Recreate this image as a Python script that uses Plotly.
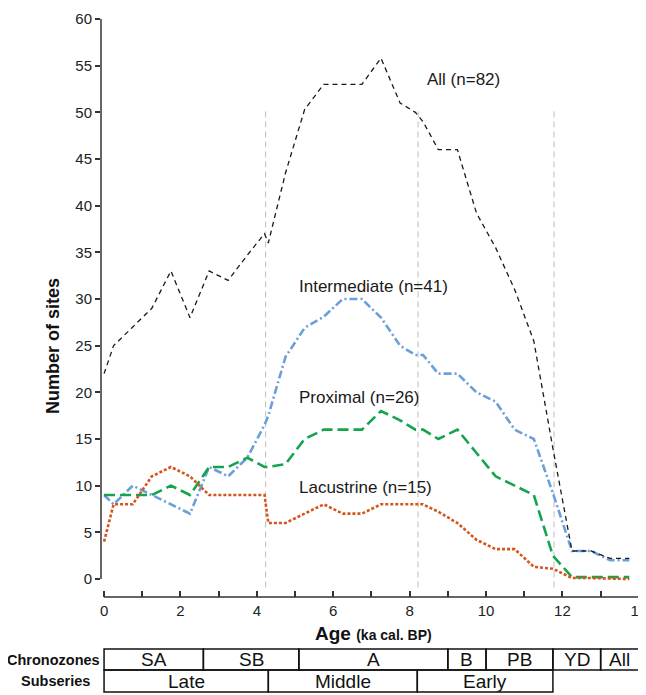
import plotly.graph_objects as go

# ---------------- data ----------------
age = [0, 0.25, 0.75, 1.25, 1.75, 2.25, 2.75, 3.25, 3.75, 4.2, 4.3, 4.75, 5.25, 5.75,
       6.25, 6.75, 7.25, 7.75, 8.15, 8.35, 8.75, 9.25, 9.75, 10.25, 10.75, 11.25,
       11.75, 12.25, 12.75, 13.25, 13.75]
all_sites = [22, 25, 27, 29, 33, 28, 33, 32, 34.7, 37, 36, 43.5, 50.3, 53, 53, 53, 55.8,
             51, 50, 49, 46, 46, 39.2, 35.5, 31, 25.5, 14, 3, 3, 2.2, 2.2]
intermediate = [9, 8, 10, 9, 8, 7, 12, 11, 13, 16.5, 17.5, 23.8, 26.9, 28.1, 30, 30, 28,
                25, 24, 24, 22, 22, 20, 19, 16, 15, 9.2, 3, 3, 2, 2]
proximal = [9, 9, 9, 9, 10, 9, 12, 12, 13, 12, 12, 12.3, 15, 16, 16, 16, 18, 17, 16, 16,
            15, 16, 13.5, 11, 10, 9, 2.5, 0.2, 0.2, 0.2, 0.2]
lacustrine = [4, 8, 8, 11, 12, 11, 9, 9, 9, 9, 6, 6, 7, 8, 7, 7, 8, 8, 8, 8, 7.2, 6, 4.2,
              3.2, 3.2, 1.3, 1.1, 0.1, 0.1, 0.05, 0]
series_labels = ["All (n=82)", "Intermediate (n=41)", "Proximal (n=26)", "Lacustrine (n=15)"]

event_ages = [4.23, 8.22, 11.78]

chrono_names = ["SA", "SB", "A", "B", "PB", "YD", "All"]
chrono_bounds = [0, 2.6, 5.1, 9.0, 10.0, 11.75, 13.0, 14.0]
subseries_names = ["Late", "Middle", "Early"]
subseries_bounds = [0, 4.3, 8.2, 11.75]

x_ticks = [0, 2, 4, 6, 8, 10, 12, 14]
y_ticks = [0, 5, 10, 15, 20, 25, 30, 35, 40, 45, 50, 55, 60]

# ---------------- layout helpers ----------------
# page window is 646x695; the html body adds an 8px margin, so the figure is 8px smaller
OFF = 8
W, H = 646 - OFF, 695 - OFF
P_LEFT, P_RIGHT, P_TOP, P_BOTTOM = 101, 640, 19, 597   # plot area in page pixels
ML, MR = P_LEFT - OFF, 646 - P_RIGHT
MT, MB = P_TOP - OFF, 695 - P_BOTTOM
XMIN, XMAX = -0.08, 14.03
YMIN, YMAX = -1.93, 60

ARIAL = "Liberation Sans, Arial"


def xp(a):
    return (a - XMIN) / (XMAX - XMIN)


def yp_px(px):
    return (P_BOTTOM - px) / (P_BOTTOM - P_TOP)


def xp_px(px):
    return (px - P_LEFT) / (P_RIGHT - P_LEFT)


fig = go.Figure()

styles = [
    dict(color="#1a1a1a", width=1.3, dash="5px,4px"),
    dict(color="#6a9fdb", width=2.6, dash="8px,3px,2px,3px"),
    dict(color="#16a34f", width=2.6, dash="11px,5px"),
    dict(color="#d4561b", width=2.6, dash="3px,2px"),
]
values = [all_sites, intermediate, proximal, lacustrine]
for i in [1, 2, 3, 0]:
    fig.add_trace(go.Scatter(x=age, y=values[i], mode="lines", line=styles[i],
                             name=series_labels[i], showlegend=False, hoverinfo="skip"))

shapes = []
for e in event_ages:
    shapes.append(dict(type="line", xref="x", yref="y", x0=e, x1=e, y0=-0.9, y1=50.5,
                       line=dict(color="#bdbdbd", width=1, dash="6px,4px"), layer="below"))
shapes.append(dict(type="line", xref="paper", yref="y", x0=0, x1=0, y0=0, y1=60,
                   line=dict(color="#333333", width=1.5)))
shapes.append(dict(type="line", xref="paper", yref="paper", x0=xp(0), x1=xp(14), y0=0, y1=0,
                   line=dict(color="#333333", width=1.5)))

ct, cm, cb = yp_px(649), yp_px(670), yp_px(692)
for i in range(len(chrono_names)):
    shapes.append(dict(type="rect", xref="paper", yref="paper",
                       x0=xp(chrono_bounds[i]), x1=xp(chrono_bounds[i + 1]), y0=cm, y1=ct,
                       line=dict(color="#111111", width=1.5)))
for i in range(len(subseries_names)):
    shapes.append(dict(type="rect", xref="paper", yref="paper",
                       x0=xp(subseries_bounds[i]), x1=xp(subseries_bounds[i + 1]), y0=cb, y1=cm,
                       line=dict(color="#111111", width=1.5)))

annotations = []
label_pos = [(8.4, 53.5), (5.05, 31.3), (5.05, 19.4), (5.05, 9.75)]
for lab, (ax_, ay_) in zip(series_labels, label_pos):
    annotations.append(dict(x=ax_, y=ay_, xref="x", yref="y", text=lab, showarrow=False,
                            xanchor="left", yanchor="middle",
                            font=dict(family=ARIAL, size=17, color="#1a1a1a")))
for i, n in enumerate(chrono_names):
    annotations.append(dict(x=xp((chrono_bounds[i] + chrono_bounds[i + 1]) / 2),
                            y=(ct + cm) / 2, xref="paper", yref="paper", text=n,
                            showarrow=False, xanchor="center", yanchor="middle",
                            font=dict(family=ARIAL, size=19, color="#111111")))
for i, n in enumerate(subseries_names):
    annotations.append(dict(x=xp((subseries_bounds[i] + subseries_bounds[i + 1]) / 2),
                            y=(cm + cb) / 2, xref="paper", yref="paper", text=n,
                            showarrow=False, xanchor="center", yanchor="middle",
                            font=dict(family=ARIAL, size=19, color="#111111")))
annotations.append(dict(x=xp_px(102), y=(ct + cm) / 2, xref="paper", yref="paper",
                        text="<b>Chronozones</b>", showarrow=False, xanchor="right",
                        yanchor="middle", font=dict(family=ARIAL, size=14.5, color="#111111")))
annotations.append(dict(x=xp_px(55), y=(cm + cb) / 2, xref="paper", yref="paper",
                        text="<b>Subseries</b>", showarrow=False, xanchor="center",
                        yanchor="middle", font=dict(family=ARIAL, size=14.5, color="#111111")))
annotations.append(dict(x=xp_px(374), y=yp_px(633), xref="paper", yref="paper",
                        text="<b>Age</b> <b><span style='font-size:14px'>(ka cal. BP)</span></b>",
                        showarrow=False, xanchor="center", yanchor="middle",
                        font=dict(family=ARIAL, size=19, color="#111111")))
annotations.append(dict(x=xp_px(53), y=yp_px(346), xref="paper", yref="paper",
                        text="<b>Number of sites</b>", showarrow=False, textangle=-90,
                        xanchor="center", yanchor="middle",
                        font=dict(family=ARIAL, size=18, color="#111111")))

fig.update_layout(
    width=W, height=H,
    margin=dict(l=ML, r=MR, t=MT, b=MB, autoexpand=False),
    paper_bgcolor="white", plot_bgcolor="white",
    shapes=shapes, annotations=annotations, showlegend=False,
    xaxis=dict(range=[XMIN, XMAX], tickvals=x_ticks, ticks="inside", ticklen=6,
               tickwidth=1.5, tickcolor="#333333", showgrid=False, zeroline=False,
               showline=False, ticklabelstandoff=3, ticklabeloverflow="allow",
               automargin=False,
               tickfont=dict(family=ARIAL, size=15, color="#222222"),
               minor=dict(dtick=1, tick0=0, ticks="inside", ticklen=6, tickwidth=1.5,
                          tickcolor="#333333", showgrid=False)),
    yaxis=dict(range=[YMIN, YMAX], tickvals=y_ticks, ticks="outside", ticklen=5,
               tickwidth=1.5, tickcolor="#333333", showgrid=False, zeroline=False,
               showline=False, automargin=False,
               tickfont=dict(family=ARIAL, size=15, color="#222222")),
)

fig.write_html("out.html")
